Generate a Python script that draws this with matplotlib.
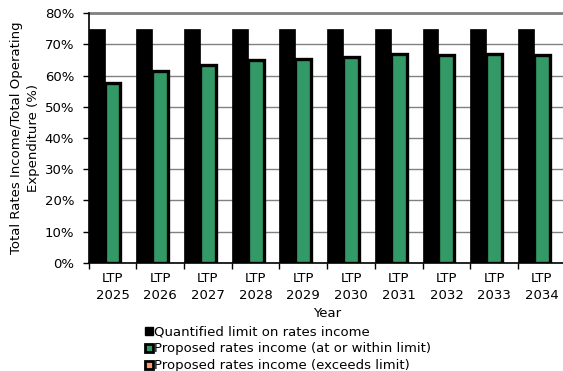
import matplotlib
matplotlib.use("Agg")
import matplotlib.pyplot as plt
from matplotlib.lines import Line2D
import numpy as np

categories = ["LTP\n2025", "LTP\n2026", "LTP\n2027", "LTP\n2028", "LTP\n2029",
              "LTP\n2030", "LTP\n2031", "LTP\n2032", "LTP\n2033", "LTP\n2034"]
limit = [75, 75, 75, 75, 75, 75, 75, 75, 75, 75]
within = [57.5, 61.5, 63.5, 65.0, 65.5, 66.0, 67.0, 66.5, 67.0, 66.5]
exceeds = [0, 0, 0, 0, 0, 0, 0, 0, 0, 0]
yticks = [0, 10, 20, 30, 40, 50, 60, 70, 80]
legend_labels = ["Quantified limit on rates income",
                 "Proposed rates income (at or within limit)",
                 "Proposed rates income (exceeds limit)"]

GREEN = "#339966"
ORANGE = "#FF9966"

plt.rcParams['font.family'] = ['DejaVu Sans']
fig = plt.figure(figsize=(5.63, 3.71), dpi=100)
ax = fig.add_axes([0.1575, 0.2919, 0.8473, 0.6722])

n = len(categories)
x = np.arange(n)
w = 1/3
ax.bar(x, limit, width=w, align='edge', color='black', edgecolor='black', linewidth=0.5, zorder=3)
ax.bar(x + w, within, width=w, align='edge', color=GREEN, edgecolor='black', linewidth=2.4, zorder=3)
ax.bar(x + 2*w, exceeds, width=w, align='edge', color=ORANGE, edgecolor='black', linewidth=0, zorder=3)

ax.set_xlim(0, n)
ax.set_ylim(0, 80)
ax.set_yticks(yticks)
ax.set_yticklabels([f"{v}%" for v in yticks], fontsize=9.5)
ax.set_xticks(np.arange(n + 1))
ax.set_xticklabels([])
ax.set_xticks(x + 0.5, minor=True)
ax.set_xticklabels(categories, minor=True, fontsize=9.5, linespacing=1.35)
ax.tick_params(axis='x', which='minor', length=0, pad=7)
ax.tick_params(axis='x', which='major', length=4, width=1, direction='out')
ax.tick_params(axis='y', length=4, width=1, direction='out', pad=6.5)

ax.yaxis.grid(True, color='#808080', linewidth=1.0, zorder=0)
ax.set_axisbelow(True)
for s in ['top', 'right']:
    ax.spines[s].set_visible(False)
ax.spines['left'].set_linewidth(1.2)
ax.spines['bottom'].set_linewidth(1.2)
ax.axhline(80, color='#808080', linewidth=2, zorder=1, clip_on=False)

ax.set_xlabel("Year", fontsize=9.5, labelpad=4)
ax.set_ylabel("Total Rates Income/Total Operating\nExpenditure (%)", fontsize=9.5,
              labelpad=3, linespacing=1.45)

handles = [
    Line2D([], [], marker='s', linestyle='none', markersize=5.5, markerfacecolor='black', markeredgecolor='black'),
    Line2D([], [], marker='s', linestyle='none', markersize=5.5, markerfacecolor=GREEN, markeredgecolor='black', markeredgewidth=2),
    Line2D([], [], marker='s', linestyle='none', markersize=5.5, markerfacecolor=ORANGE, markeredgecolor='black', markeredgewidth=2),
]
fig.legend(handles, legend_labels, loc='upper left', bbox_to_anchor=(0.258, 0.122),
           frameon=False, fontsize=9.5, handlelength=0.5, handletextpad=0.15,
           labelspacing=0.28, borderpad=0, borderaxespad=0)

fig.savefig("out.png", dpi=100)
